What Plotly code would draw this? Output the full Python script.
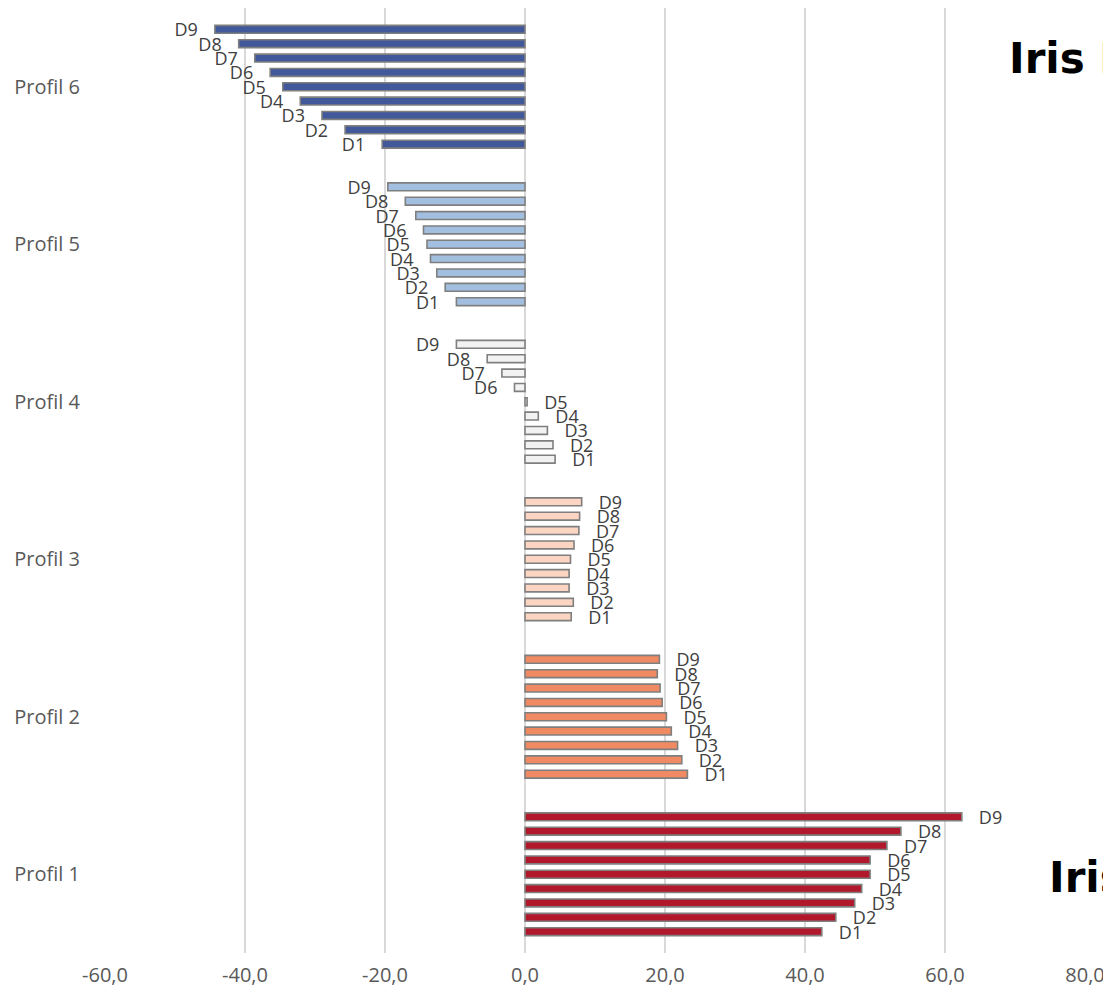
import plotly.graph_objects as go

profiles = ["Profil 1", "Profil 2", "Profil 3", "Profil 4", "Profil 5", "Profil 6"]
deciles = ["D1", "D2", "D3", "D4", "D5", "D6", "D7", "D8", "D9"]

# values per profile, D1..D9
p1 = [42.4, 44.4, 47.1, 48.1, 49.3, 49.3, 51.7, 53.7, 62.4]
p2 = [23.2, 22.4, 21.8, 20.9, 20.2, 19.6, 19.3, 18.9, 19.2]
p3 = [6.6, 6.9, 6.3, 6.3, 6.5, 7.0, 7.7, 7.8, 8.1]
p4 = [4.3, 4.0, 3.2, 1.9, 0.3, -1.5, -3.3, -5.4, -9.8]
p5 = [-9.8, -11.4, -12.6, -13.5, -14.0, -14.5, -15.6, -17.1, -19.6]
p6 = [-20.4, -25.7, -29.0, -32.1, -34.6, -36.4, -38.6, -40.9, -44.3]

profile_values = [p1, p2, p3, p4, p5, p6]
profile_colors = ["#B2182B", "#EF8A62", "#FBD5C2", "#F2F2F2", "#A3BFE0", "#41589A"]

x_ticks = [-60, -40, -20, 0, 20, 40, 60, 80]
x_tick_labels = ["-60,0", "-40,0", "-20,0", "0,0", "20,0", "40,0", "60,0", "80,0"]

titles = ["Iris Profil 6", "Iris Profil 1"]

fig = go.Figure()
NB = "\u00a0"
for j, d in enumerate(deciles):
    xs = [pv[j] for pv in profile_values]
    texts = [(NB * 3 + d) if v >= 0 else (d + NB * 3) for v in xs]
    fig.add_trace(go.Bar(
        y=profiles, x=xs, name=d, orientation="h",
        marker=dict(color=profile_colors, line=dict(color="#7F7F7F", width=1.6)),
        text=texts, textposition="outside", constraintext="none",
        cliponaxis=False,
        textfont=dict(family="Open Sans, sans-serif", size=18, color="#404040"),
        hoverinfo="x+y+name",
    ))

fig.update_layout(
    width=1111, height=980,
    margin=dict(l=97, r=34, t=0, b=35),
    barmode="group", bargap=0.18, bargroupgap=0.45,
    plot_bgcolor="white", paper_bgcolor="white",
    showlegend=False,
    font=dict(family="Open Sans, sans-serif", color="#595959"),
)
fig.update_xaxes(
    range=[-60, 80], tickvals=x_ticks, ticktext=x_tick_labels,
    showgrid=True, gridcolor="#D9D9D9", gridwidth=1.5,
    zeroline=True, zerolinecolor="#D9D9D9", zerolinewidth=1.5,
    showline=False, ticks="", tickfont=dict(size=20, color="#595959"),
    ticklabelstandoff=8,
)
fig.update_yaxes(
    categoryorder="array", categoryarray=profiles,
    showgrid=False, zeroline=False, showline=False, ticks="",
    tickfont=dict(size=20, color="#595959"), ticklabelstandoff=24,
)

fig.add_annotation(text=titles[0], xref="paper", yref="paper", x=(1007 - 105) / 980, y=(953 - 58) / 945,
                   xanchor="left", yanchor="middle", showarrow=False,
                   font=dict(family="DejaVu Sans", size=42, color="black", weight="bold"))
fig.add_annotation(text=titles[1], xref="paper", yref="paper", x=(1047 - 105) / 980, y=(953 - 877) / 945,
                   xanchor="left", yanchor="middle", showarrow=False,
                   font=dict(family="DejaVu Sans", size=42, color="black", weight="bold"))

fig.write_html("out.html")
